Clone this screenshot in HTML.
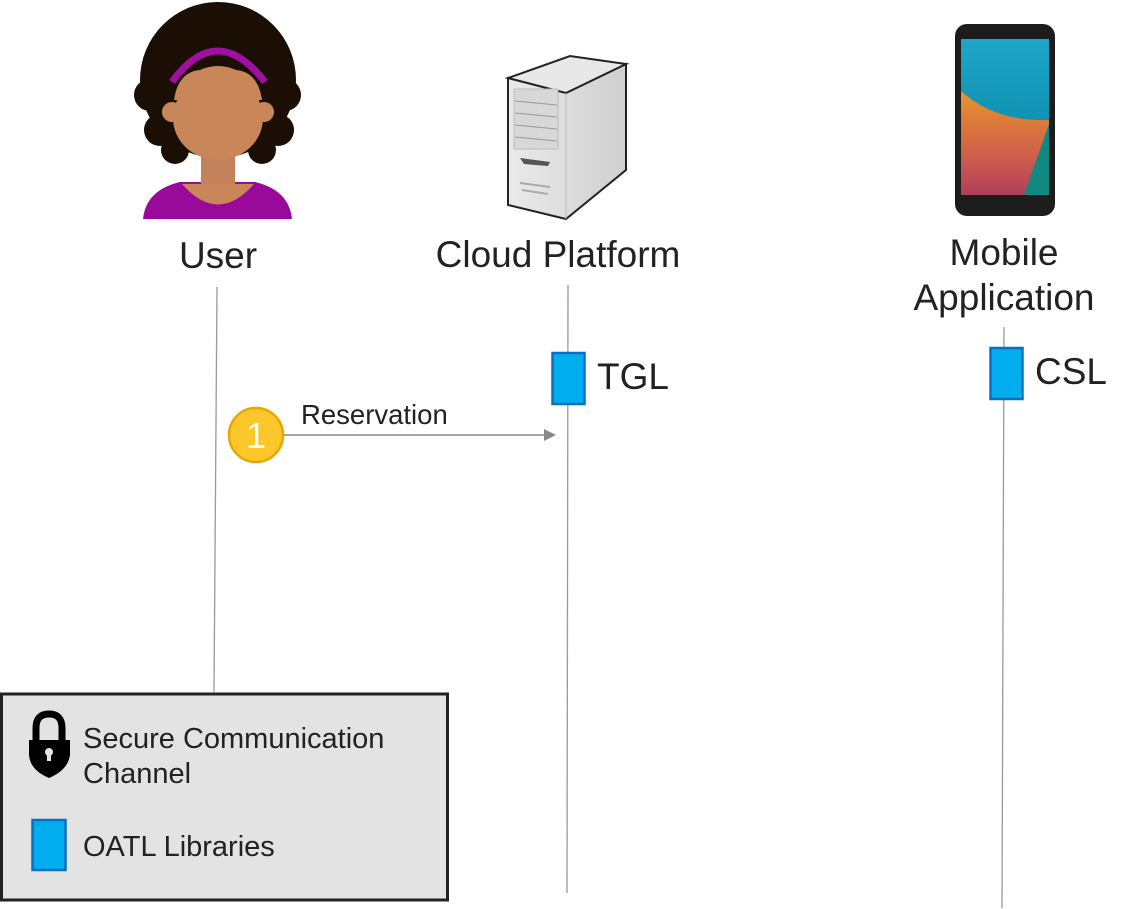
<!DOCTYPE html>
<html><head><meta charset="utf-8"><style>
html,body{margin:0;padding:0;background:#fff;}
svg{display:block;font-family:"Liberation Sans",Arial,sans-serif;}
</style></head><body>
<svg width="1131" height="909" viewBox="0 0 1131 909" xmlns="http://www.w3.org/2000/svg">
<defs>
<linearGradient id="srv" x1="0" x2="1"><stop offset="0" stop-color="#eaeaea"/><stop offset="1" stop-color="#cfcfcf"/></linearGradient>
<linearGradient id="scr" x1="0" y1="0" x2="0" y2="1"><stop offset="0" stop-color="#1ea6c9"/><stop offset="1" stop-color="#04809c"/></linearGradient>
<linearGradient id="org" x1="0" y1="0" x2="0" y2="1"><stop offset="0" stop-color="#e8952a"/><stop offset="0.6" stop-color="#d0604a"/><stop offset="1" stop-color="#b0405a"/></linearGradient>
</defs>
<!-- User icon -->
<g>
<path d="M143 219 Q146 190 180 182 L255 182 Q289 190 292 219 Z" fill="#9a0a9a"/>
<circle cx="218" cy="80" r="78" fill="#1a0e05"/>
<circle cx="150" cy="95" r="16" fill="#1a0e05"/><circle cx="285" cy="95" r="16" fill="#1a0e05"/>
<circle cx="160" cy="130" r="16" fill="#1a0e05"/><circle cx="278" cy="130" r="16" fill="#1a0e05"/>
<circle cx="175" cy="150" r="14" fill="#1a0e05"/><circle cx="262" cy="150" r="14" fill="#1a0e05"/>
<path d="M172 82 Q217 20 265 82" fill="none" stroke="#a010a0" stroke-width="7"/>
<rect x="201" y="150" width="34" height="38" fill="#c4825a"/>
<path d="M182 184 Q218 225 254 184 Z" fill="#c98658"/>
<circle cx="172" cy="112" r="10" fill="#c98658"/><circle cx="264" cy="112" r="10" fill="#c98658"/>
<ellipse cx="218" cy="118" rx="45" ry="42" fill="#c98658"/>
<path d="M174 100 Q178 72 200 70 Q218 62 236 70 Q258 72 262 100 Z" fill="#c98658"/>
</g>
<!-- Server -->
<g>
<path d="M508 78 L566 93 L626 64 L626 170 L566 219 L508 205 Z" fill="url(#srv)" stroke="#222" stroke-width="2"/>
<path d="M508 78 L570 56 L626 64 L566 93 Z" fill="#e8e8e8" stroke="#222" stroke-width="2"/>
<path d="M566 93 L566 219" stroke="#bbb" stroke-width="1"/>
<rect x="514" y="89" width="44" height="60" fill="#d8d8d8" stroke="#bbb"/>
<g stroke="#999" stroke-width="1"><line x1="515" y1="101" x2="557" y2="105"/><line x1="515" y1="113" x2="557" y2="117"/><line x1="515" y1="125" x2="557" y2="129"/><line x1="515" y1="137" x2="557" y2="141"/></g>
<path d="M520 158 L550 162 L548 166 L524 164 Z" fill="#555"/>
<g stroke="#aaa" stroke-width="2"><line x1="520" y1="183" x2="550" y2="187"/><line x1="522" y1="190" x2="548" y2="194"/></g>
</g>
<!-- Phone -->
<g>
<rect x="955" y="24" width="100" height="192" rx="12" fill="#1c1c1c"/>
<rect x="961" y="39" width="88" height="156" fill="url(#scr)"/>
<path d="M961 91 Q995 122 1049 120 L1049 195 L961 195 Z" fill="url(#org)"/>
<path d="M1049 124 L1049 195 L1024 195 Z" fill="#108a80"/>
</g>
<!-- Labels -->
<g fill="#222" font-size="37">
<text x="218" y="268" text-anchor="middle">User</text>
<text x="558" y="267" text-anchor="middle">Cloud Platform</text>
<text x="1004" y="265" text-anchor="middle">Mobile</text>
<text x="1004" y="310" text-anchor="middle">Application</text>
<text x="597" y="389">TGL</text>
<text x="1035" y="384">CSL</text>
</g>
<!-- Lifelines -->
<g stroke="#999" stroke-width="1.3">
<line x1="217" y1="287" x2="214" y2="692"/>
<line x1="568" y1="285" x2="567" y2="893"/>
<line x1="1004" y1="327" x2="1002" y2="908"/>
</g>
<rect x="552.5" y="353" width="32" height="51" fill="#00adef" stroke="#0a6fc0" stroke-width="2.5"/>
<rect x="990.5" y="348" width="32" height="51" fill="#00adef" stroke="#0a6fc0" stroke-width="2.5"/>
<!-- Message -->
<line x1="284" y1="435" x2="546" y2="435" stroke="#888" stroke-width="1.5"/>
<path d="M544 429 L556 435 L544 441 Z" fill="#888"/>
<circle cx="256" cy="435" r="27" fill="#fcc72b" stroke="#e6a800" stroke-width="2.5"/>
<text x="256" y="448" fill="#fff" font-size="36" text-anchor="middle">1</text>
<text x="301" y="424" fill="#222" font-size="27.5">Reservation</text>
<!-- Legend -->
<rect x="1.5" y="694" width="446" height="206" fill="#e3e3e3" stroke="#222" stroke-width="3"/>
<path d="M36 740 L36 728 Q36 714 49 714 Q62 714 62 728 L62 740" fill="none" stroke="#000" stroke-width="7"/>
<path d="M29 740 L70 740 L70 755 Q68 770 49 778 Q30 770 29 755 Z" fill="#000"/>
<circle cx="49" cy="752" r="4" fill="#e3e3e3"/><rect x="47" y="752" width="4" height="9" fill="#e3e3e3"/>
<rect x="32.5" y="820" width="33" height="50" fill="#00adef" stroke="#0a6fc0" stroke-width="2.5"/>
<g fill="#222" font-size="29">
<text x="83" y="748">Secure Communication</text>
<text x="83" y="783">Channel</text>
<text x="83" y="856">OATL Libraries</text>
</g>
</svg>
</body></html>
